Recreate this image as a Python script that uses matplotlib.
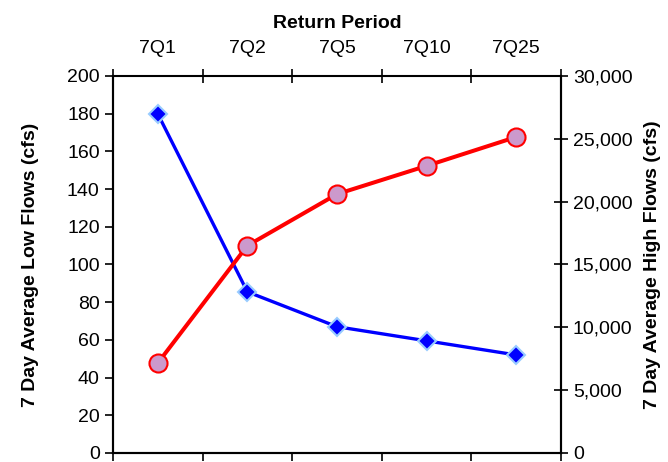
import numpy as np
import matplotlib
matplotlib.use("Agg")
import matplotlib.pyplot as plt

plt.rcParams['font.family'] = ['Liberation Sans', 'DejaVu Sans']

categories = ["7Q1", "7Q2", "7Q5", "7Q10", "7Q25"]
low_flows = [180, 85.5, 67, 59.5, 52]
high_flows = [7150, 16500, 20600, 22850, 25150]

fig = plt.figure(figsize=(6.68, 4.62), dpi=100)
ax = fig.add_axes([0.169, 0.0195, 0.671, 0.816])
x = np.arange(len(categories))

ax.plot(x, low_flows, color='#0000ff', lw=2.4, marker='D', markersize=9,
        markerfacecolor='#0000ff', markeredgecolor='#99ccff', markeredgewidth=1.5, zorder=3)
ax.set_xlim(-0.5, len(categories) - 0.5)
ax.set_ylim(0, 200)
ax.set_yticks(np.arange(0, 201, 20))
ax.set_xticks(np.arange(-0.5, len(categories), 1))
ax.set_xticklabels([])
ax.tick_params(axis='x', direction='out', length=6, width=1.2, bottom=True, top=False)
ax.tick_params(axis='y', direction='out', length=6, width=1.2, labelsize=14)
ax.set_ylabel('7 Day Average Low Flows (cfs)', fontsize=14, fontweight='bold', labelpad=20)
for s in ax.spines.values():
    s.set_linewidth(1.5)
ax.spines['top'].set_visible(False)

sec = ax.secondary_xaxis('top')
sec.set_xticks(np.arange(-0.5, len(categories), 1))
sec.set_xticklabels([''] * (len(categories) + 1))
sec.set_xticks(x, minor=True)
sec.set_xticklabels(categories, minor=True)
sec.tick_params(axis='x', which='major', direction='inout', length=10, width=1.2)
sec.tick_params(axis='x', which='minor', length=0, labelsize=14, pad=14)
sec.spines['top'].set_linewidth(1.5)
sec.set_xlabel('Return Period', fontsize=14, fontweight='bold', labelpad=8)

ax2 = ax.twinx()
ax2.plot(x, high_flows, color='#ff0000', lw=2.9, marker='o', markersize=13,
         markerfacecolor='#cc99cc', markeredgecolor='#ff0000', markeredgewidth=1.5, zorder=3)
ax2.set_ylim(0, 30000)
ax2.set_yticks(np.arange(0, 30001, 5000))
ax2.set_yticklabels([f"{v:,}" for v in range(0, 30001, 5000)])
ax2.tick_params(axis='y', direction='inout', length=10, width=1.2, labelsize=14)
ax2.set_ylabel('7 Day Average High Flows (cfs)', fontsize=14, fontweight='bold', labelpad=8)
for s in ax2.spines.values():
    s.set_linewidth(1.5)
ax2.spines['top'].set_visible(False)

fig.savefig('out.png', dpi=100)
